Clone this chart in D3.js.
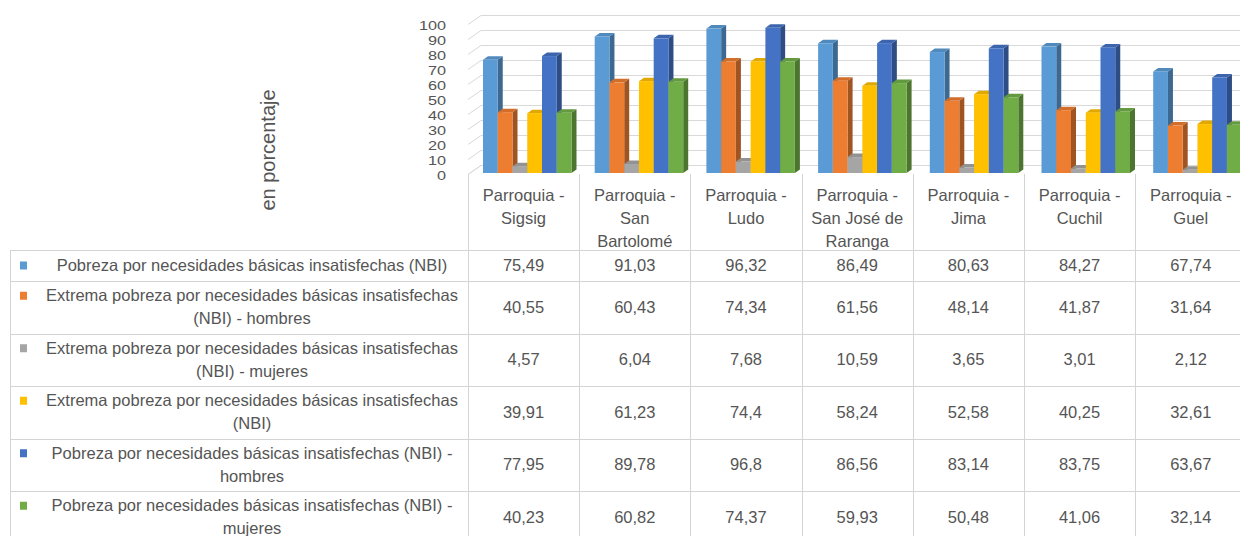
<!DOCTYPE html>
<html><head><meta charset="utf-8">
<script src="https://cdn.jsdelivr.net/npm/d3@7"></script>
<style>
html,body{margin:0;padding:0;background:#fff;}
svg{display:block;font-family:"Liberation Sans",Arial,sans-serif;}
</style></head>
<body><svg id="c" width="1240" height="536"></svg>
<script>
// ---- data ----
const categories = ["Parroquia - Sigsig","Parroquia - San Bartolomé","Parroquia - Ludo","Parroquia - San José de Raranga","Parroquia - Jima","Parroquia - Cuchil","Parroquia - Guel"];
const categoryLines = [["Parroquia -","Sigsig"],["Parroquia -","San","Bartolomé"],["Parroquia -","Ludo"],["Parroquia -","San José de","Raranga"],["Parroquia -","Jima"],["Parroquia -","Cuchil"],["Parroquia -","Guel"]];
const seriesNames = [
  "Pobreza por necesidades básicas insatisfechas (NBI)",
  "Extrema pobreza por necesidades básicas insatisfechas (NBI) - hombres",
  "Extrema pobreza por necesidades básicas insatisfechas (NBI) - mujeres",
  "Extrema pobreza por necesidades básicas insatisfechas (NBI)",
  "Pobreza por necesidades básicas insatisfechas (NBI) - hombres",
  "Pobreza por necesidades básicas insatisfechas (NBI) - mujeres"
];
const seriesLines = [
  ["Pobreza por necesidades básicas insatisfechas (NBI)"],
  ["Extrema pobreza por necesidades básicas insatisfechas","(NBI) - hombres"],
  ["Extrema pobreza por necesidades básicas insatisfechas","(NBI) - mujeres"],
  ["Extrema pobreza por necesidades básicas insatisfechas","(NBI)"],
  ["Pobreza por necesidades básicas insatisfechas (NBI) -","hombres"],
  ["Pobreza por necesidades básicas insatisfechas (NBI) -","mujeres"]
];
const pobrezaNBI      = [75.49, 91.03, 96.32, 86.49, 80.63, 84.27, 67.74];
const extremaHombres  = [40.55, 60.43, 74.34, 61.56, 48.14, 41.87, 31.64];
const extremaMujeres  = [4.57, 6.04, 7.68, 10.59, 3.65, 3.01, 2.12];
const extremaNBI      = [39.91, 61.23, 74.4, 58.24, 52.58, 40.25, 32.61];
const pobrezaHombres  = [77.95, 89.78, 96.8, 86.56, 83.14, 83.75, 63.67];
const pobrezaMujeres  = [40.23, 60.82, 74.37, 59.93, 50.48, 41.06, 32.14];
const seriesValues = [pobrezaNBI, extremaHombres, extremaMujeres, extremaNBI, pobrezaHombres, pobrezaMujeres];
const seriesColors = ["#5B9BD5","#ED7D31","#A5A5A5","#FFC000","#4472C4","#70AD47"];
const yTicks = [0,10,20,30,40,50,60,70,80,90,100];
const yTitle = "en porcentaje";

// ---- layout ----
const svg = d3.select("#c");
const textColor = "#555555", gridColor = "#d9d9d9", tableColor = "#d4d4d4";
const colLeft = 468, colW = 111.2, tableLeft = 10;
const wallDx = 13, wallDy = -9, barDx = 5, barDy = -3.5;

const y = d3.scaleLinear().domain([0,100]).range([174, 24]);
const xCol = d3.scaleBand().domain(categories).range([colLeft, colLeft + colW*categories.length]);
const xBars = d3.scaleBand().domain(categories).range([483, 483 + 111.7*categories.length]);
const xSub = d3.scaleBand().domain(d3.range(seriesNames.length)).range([0, 88.5]);

// walls
const gWall = svg.append("g").attr("stroke", gridColor).attr("stroke-width", 1).attr("fill","none");
yTicks.forEach(v => {
  const yy = Math.round(y(v)) + 0.5;
  gWall.append("line").attr("x1", colLeft).attr("y1", yy).attr("x2", colLeft + wallDx).attr("y2", yy + wallDy);
  gWall.append("line").attr("x1", colLeft + wallDx).attr("y1", yy + wallDy).attr("x2", 1240).attr("y2", yy + wallDy);
});

// y axis labels
const tickScaleX = 1.25;
const axis = svg.append("g").attr("transform", `translate(${colLeft},1.5)`)
  .call(d3.axisLeft(y).tickValues(yTicks).tickSize(0).tickPadding(22));
axis.select(".domain").remove();
axis.selectAll("text").attr("fill", textColor).style("font-size","13px").style("font-family",'"Liberation Sans",Arial,sans-serif')
  .attr("x", -22 / tickScaleX).attr("transform", `scale(${tickScaleX},1)`);

// y title
svg.append("text").attr("transform", "translate(275,150) rotate(-90)")
  .attr("text-anchor","middle").attr("fill", textColor).style("font-size","20px").text(yTitle);

// bars (3D)
const gBars = svg.append("g");
const base = y(0) - 1;
categories.forEach((cat, ci) => {
  seriesValues.forEach((vals, si) => {
    const v = vals[ci];
    const x0 = xBars(cat) + xSub(si), w = xSub.bandwidth();
    const top = y(v) - 1;
    const c = d3.color(seriesColors[si]);
    gBars.append("path").attr("fill", c.darker(1.1))
      .attr("d", `M${x0+w},${top} L${x0+w+barDx},${top+barDy} L${x0+w+barDx},${base+barDy} L${x0+w},${base} Z`);
    gBars.append("path").attr("fill", c.darker(0.35))
      .attr("d", `M${x0},${top} L${x0+barDx},${top+barDy} L${x0+w+barDx},${top+barDy} L${x0+w},${top} Z`);
    gBars.append("rect").attr("x", x0).attr("y", top).attr("width", w).attr("height", base - top).attr("fill", c);
  });
});

// floor corner line
svg.append("line").attr("x1", colLeft).attr("y1", Math.round(y(0))+0.5).attr("x2", colLeft+wallDx).attr("y2", Math.round(y(0))+0.5+wallDy).attr("stroke", gridColor);

// ---- table ----
const rowHeights = [31, 52.5, 52.5, 52.5, 52.5, 52.5];
const headerBottom = 250;
const rowEdges = [headerBottom];
rowHeights.forEach(h => rowEdges.push(rowEdges[rowEdges.length-1] + h));
const gT = svg.append("g").attr("stroke", tableColor).attr("stroke-width", 1);
rowEdges.forEach(e => {
  const yy = Math.round(e) + 0.5;
  gT.append("line").attr("x1", tableLeft).attr("x2", 1240).attr("y1", yy).attr("y2", yy);
});
gT.append("line").attr("x1", tableLeft+0.5).attr("x2", tableLeft+0.5).attr("y1", headerBottom).attr("y2", 536);
for (let i = 0; i <= categories.length; i++) {
  const xx = Math.round(colLeft + i*colW) + 0.5;
  gT.append("line").attr("x1", xx).attr("x2", xx).attr("y1", Math.round(y(0))).attr("y2", 536);
}

// header labels
categories.forEach((cat, ci) => {
  const cx = xCol(cat) + xCol.bandwidth()/2;
  categoryLines[ci].forEach((ln, li) => {
    svg.append("text").attr("x", cx).attr("y", 195 + li*23 + 5.5).attr("text-anchor","middle")
      .attr("fill", textColor).style("font-size","16.5px").text(ln);
  });
});

// rows
const fmt = v => String(v).replace(".", ",");
seriesNames.forEach((name, si) => {
  const rTop = rowEdges[si], rBot = rowEdges[si+1], rc = (rTop + rBot)/2;
  const lines = seriesLines[si];
  const firstY = rc - (lines.length - 1) * 11.5;
  svg.append("rect").attr("x", 20).attr("y", firstY - 4).attr("width", 7).attr("height", 8).attr("fill", seriesColors[si]);
  lines.forEach((ln, li) => {
    svg.append("text").attr("x", 252).attr("y", firstY + li*23 + 5.5).attr("text-anchor","middle")
      .attr("fill", textColor).style("font-size","16.5px").text(ln);
  });
  categories.forEach((cat, ci) => {
    svg.append("text").attr("x", xCol(cat) + xCol.bandwidth()/2).attr("y", rc + 5.5).attr("text-anchor","middle")
      .attr("fill", textColor).style("font-size","16.5px").text(fmt(seriesValues[si][ci]));
  });
});
</script></body></html>
